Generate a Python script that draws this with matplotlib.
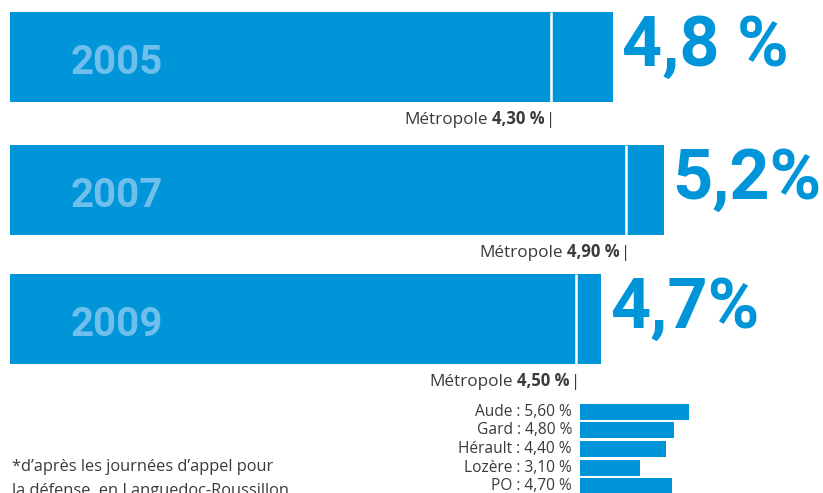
import matplotlib.pyplot as plt

years = ['2005', '2007', '2009']
region = [4.8, 5.2, 4.7]
region_labels = ['4,8 %', '5,2%', '4,7%']
metropole = [4.30, 4.90, 4.50]
metropole_labels = ['4,30 %', '4,90 %', '4,50 %']
departements = ['Aude', 'Gard', 'Hérault', 'Lozère', 'PO']
dep_values = [5.60, 4.80, 4.40, 3.10, 4.70]
dep_labels = ['5,60 %', '4,80 %', '4,40 %', '3,10 %', '4,70 %']

W, H = 823, 493
blue = '#0095d9'
light = '#6fbfec'
grey = '#3a3a3a'
plt.rcParams['font.family'] = ['Open Sans', 'DejaVu Sans']

fig = plt.figure(figsize=(W / 100, H / 100), dpi=100)

# big bars, one unit is about 125.7 px, starting 10 px from the left
ax = fig.add_axes([10 / W, 0, 813 / W, 1])
ax.set_xlim(0, 813 / 125.7)
ax.set_ylim(H, 0)
ax.axis('off')
bar_y = [57, 190, 318.5]
bar_h = 90
ax.barh(bar_y, region, height=bar_h, color=blue)
for i in range(len(years)):
    y = bar_y[i]
    ax.vlines(metropole[i], y - bar_h / 2, y + bar_h / 2, color='white', lw=1.8)
    ax.annotate(years[i], xy=(0, y), xytext=(61, -17), textcoords='offset pixels',
                ha='left', va='baseline', color=light, fontsize=29, weight='bold',
                family='Roboto')
    ax.annotate(region_labels[i], xy=(region[i], y - bar_h / 2), xytext=(9, -1),
                textcoords='offset pixels', ha='left', va='top', color=blue,
                fontsize=50.5, weight='bold', family='Roboto', annotation_clip=False)
    # "Métropole x,xx % |" right aligned on the white line
    base = (metropole[i], y + bar_h / 2)
    ax.annotate('|', xy=base, xytext=(0, -22), textcoords='offset pixels',
                ha='center', va='baseline', color=grey, fontsize=12)
    t2 = ax.annotate(metropole_labels[i], xy=base, xytext=(-6, -22),
                     textcoords='offset pixels', ha='right', va='baseline',
                     color=grey, fontsize=12, weight='bold')
    ax.annotate('Métropole', xy=(0, 0), xycoords=t2, xytext=(-4, 0),
                textcoords='offset pixels', ha='right', va='bottom',
                color=grey, fontsize=12.3)

# small bars per departement, one unit is about 19.5 px
ax2 = fig.add_axes([580 / W, 0, 200 / W, 1])
ax2.set_xlim(0, 200 / 19.5)
ax2.set_ylim(H, 0)
ax2.axis('off')
dep_y = [412, 430, 449, 468, 486]
ax2.barh(dep_y, dep_values, height=16, color=blue)
for i in range(len(departements)):
    ax2.annotate(departements[i] + ' : ' + dep_labels[i], xy=(0, dep_y[i]),
                 xytext=(-8, 0), textcoords='offset pixels', ha='right',
                 va='center', color=grey, fontsize=11.2, annotation_clip=False)

fig.text(12 / W, 1 - 467 / H, '*d\u2019après les journées d\u2019appel pour',
         ha='left', va='center', color=grey, fontsize=11.8)
fig.text(12 / W, 1 - 491 / H, 'la défense, en Languedoc-Roussillon',
         ha='left', va='center', color=grey, fontsize=11.8)

fig.savefig('out.png', dpi=100, facecolor='white')
